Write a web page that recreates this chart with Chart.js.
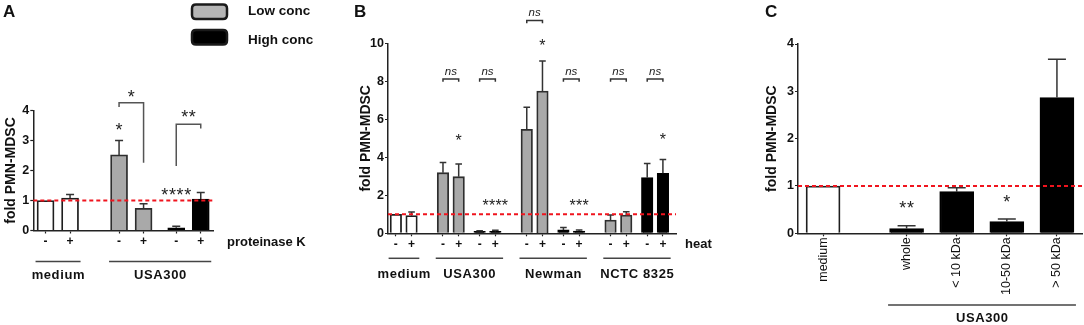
<!DOCTYPE html>
<html><head><meta charset="utf-8">
<script src="https://cdn.jsdelivr.net/npm/chart.js@4.4.1/dist/chart.umd.min.js"></script>
<style>
html,body{margin:0;padding:0;background:#fff;width:1084px;height:325px;overflow:hidden;position:relative}
canvas{position:absolute;left:0;top:0}
</style></head><body>
<canvas id="cA" width="1100" height="325"></canvas>
<canvas id="cB" width="1100" height="325"></canvas>
<canvas id="cC" width="1100" height="325"></canvas>
<script>
// ---------- DATA ----------
const yTitle = 'fold PMN-MDSC';
const legendLabels = ['Low conc', 'High conc'];

// Panel A
const treatA  = ['-', '+', '-', '+', '-', '+'];
const groupA  = ['medium', 'medium', 'USA300', 'USA300', 'USA300', 'USA300'];
const concA   = ['none', 'none', 'low', 'low', 'high', 'high'];
const valuesA = [1.00, 1.08, 2.52, 0.74, 0.09, 1.05];
const errorsA = [0.00, 0.12, 0.48, 0.15, 0.05, 0.22];
const ticksA  = [0, 1, 2, 3, 4];

// Panel B
const treatB  = ['-', '+', '-', '+', '-', '+', '-', '+', '-', '+', '-', '+', '-', '+'];
const groupB  = ['medium', 'medium', 'USA300', 'USA300', 'USA300', 'USA300',
                 'Newman', 'Newman', 'Newman', 'Newman', 'NCTC 8325', 'NCTC 8325', 'NCTC 8325', 'NCTC 8325'];
const concB   = ['none', 'none', 'low', 'low', 'high', 'high', 'low', 'low', 'high', 'high', 'low', 'low', 'high', 'high'];
const valuesB = [1.00, 0.93, 3.19, 2.98, 0.10, 0.10, 5.47, 7.49, 0.18, 0.12, 0.70, 0.96, 2.93, 3.16];
const errorsB = [0.00, 0.19, 0.53, 0.67, 0.04, 0.06, 1.16, 1.58, 0.12, 0.05, 0.26, 0.18, 0.75, 0.73];
const ticksB  = [0, 2, 4, 6, 8, 10];

// Panel C
const categoriesC = ['medium', 'whole', '< 10 kDa', '10-50 kDa', '> 50 kDa'];
const groupC  = ['medium', 'USA300', 'USA300', 'USA300', 'USA300'];
const concC   = ['none', 'high', 'high', 'high', 'high'];
const valuesC = [1.00, 0.10, 0.88, 0.25, 2.87];
const errorsC = [0.00, 0.06, 0.08, 0.05, 0.81];
const ticksC  = [0, 1, 2, 3, 4];

// significance annotations (in data units)
const bracketsA = [
  {from: 2, to: 3, top: 4.26, dropL: 4.12, dropR: 2.26, text: '*',  textY: 4.62, kind: 'star'},
  {from: 4, to: 5, top: 3.54, dropL: 2.15, dropR: 3.40, text: '**', textY: 3.96, kind: 'star'}
];
const starsA = [{bar: 2, y: 3.52, text: '*'}, {bar: 4, y: 1.35, text: '****'}];

const bracketsB = [
  {from: 2,  to: 3,  top: 8.12,  dropL: 7.97,  dropR: 7.97,  text: 'ns', textY: 8.5,   kind: 'ns'},
  {from: 4,  to: 5,  top: 8.12,  dropL: 7.97,  dropR: 7.97,  text: 'ns', textY: 8.5,   kind: 'ns'},
  {from: 6,  to: 7,  top: 11.2,  dropL: 11.05, dropR: 11.05, text: 'ns', textY: 11.58, kind: 'ns'},
  {from: 8,  to: 9,  top: 8.12,  dropL: 7.97,  dropR: 7.97,  text: 'ns', textY: 8.5,   kind: 'ns'},
  {from: 10, to: 11, top: 8.12,  dropL: 7.97,  dropR: 7.97,  text: 'ns', textY: 8.5,   kind: 'ns'},
  {from: 12, to: 13, top: 8.12,  dropL: 7.97,  dropR: 7.97,  text: 'ns', textY: 8.5,   kind: 'ns'}
];
const starsB = [
  {bar: 3, y: 5.09, text: '*'}, {bar: 7, y: 10.08, text: '*'}, {bar: 13, y: 5.17, text: '*'},
  {bar: 5, y: 1.66, text: '****'}, {bar: 9, y: 1.66, text: '***'}
];
const starsC = [{bar: 1, y: 0.63, text: '**'}, {bar: 3, y: 0.77, text: '*'}];

// ---------- STYLE / LAYOUT ----------
const FONT = '"Liberation Sans", Arial, Helvetica, sans-serif';
Chart.defaults.font.family = FONT;
Chart.defaults.color = '#111';
const fills = {none: '#ffffff', low: '#a9a9a9', high: '#000000'};
const edges = {none: '#1e1e1e', low: '#2e2e2e', high: '#000000'};

function spread(n, idx, arr, empty) {
  const out = Array(n).fill(empty);
  idx.forEach((k, i) => { out[k] = arr[i]; });
  return out;
}

function drawMark(ctx, text, x, yc, kind, size, spacing) {
  ctx.save();
  ctx.fillStyle = '#222';
  ctx.textAlign = 'center';
  ctx.textBaseline = 'alphabetic';
  if (kind === 'ns') {
    ctx.font = 'italic 11.5px ' + FONT;
    ctx.fillText(text, x, yc + 0.27 * 11.5);
  } else {
    const s = size || 15;
    ctx.font = s + 'px ' + FONT;
    const sp = text.length > 1 ? (spacing || 0) : 0;
    ctx.letterSpacing = sp + 'px';
    ctx.fillText(text, x + sp / 2, yc + 0.6 * s);
  }
  ctx.restore();
}

function txt(ctx, text, x, y, font, align, spacing) {
  ctx.save();
  ctx.font = font;
  ctx.fillStyle = '#111';
  ctx.textAlign = align || 'left';
  ctx.textBaseline = 'middle';
  if (spacing) ctx.letterSpacing = spacing + 'px';
  ctx.fillText(text, x + (align === 'center' && spacing ? spacing / 2 : 0), y);
  ctx.restore();
}

function annot(p) {
  return {
    id: 'annot_' + p.name,
    afterDatasetsDraw(chart) {
      const {ctx, chartArea: a, scales: {x, y}} = chart;
      const px = i => x.getPixelForValue(p.idx[i]);
      const py = v => y.getPixelForValue(v);
      ctx.save();
      // error bars
      ctx.strokeStyle = '#333';
      ctx.lineWidth = 1.5;
      p.values.forEach((v, i) => {
        const e = p.errors[i];
        if (!e) return;
        const cx = px(i), y1 = py(v), y2 = py(v + e);
        ctx.beginPath();
        ctx.moveTo(cx, y1); ctx.lineTo(cx, y2);
        ctx.moveTo(cx - p.cap, y2); ctx.lineTo(cx + p.cap, y2);
        ctx.stroke();
      });
      // reference line at 1
      ctx.strokeStyle = '#f0141e';
      ctx.lineWidth = 2;
      ctx.setLineDash([4, 3]);
      ctx.beginPath();
      ctx.moveTo(a.left, py(1)); ctx.lineTo(a.right, py(1));
      ctx.stroke();
      ctx.setLineDash([]);
      // brackets
      (p.brackets || []).forEach(b => {
        const x1 = px(b.from), x2 = px(b.to), yt = py(b.top);
        ctx.strokeStyle = b.kind === 'ns' ? '#333' : '#555';
        ctx.lineWidth = 1.5;
        ctx.beginPath();
        ctx.moveTo(x1, py(b.dropL)); ctx.lineTo(x1, yt); ctx.lineTo(x2, yt); ctx.lineTo(x2, py(b.dropR));
        ctx.stroke();
        drawMark(ctx, b.text, (x1 + x2) / 2, py(b.textY), b.kind, p.starSize, p.starSp);
      });
      // stars
      (p.stars || []).forEach(s => drawMark(ctx, s.text, px(s.bar), py(s.y), 'star', p.starSize, p.starSp));
      // group underlines + labels
      (p.underline || []).forEach(g => {
        const members = p.groups.map((n, i) => n === g ? i : -1).filter(i => i >= 0);
        const x1 = px(members[0]) - p.barW / 2 - 1.5;
        const x2 = px(members[members.length - 1]) + p.barW / 2 + 2;
        ctx.strokeStyle = '#444';
        ctx.lineWidth = 1.5;
        ctx.beginPath();
        ctx.moveTo(x1, a.bottom + p.lineDy); ctx.lineTo(x2, a.bottom + p.lineDy);
        ctx.stroke();
        txt(ctx, g, (x1 + x2) / 2, a.bottom + p.labelDy, 'bold 13px ' + FONT, 'center', 0.6);
      });
      // row label
      if (p.rowLabel) txt(ctx, p.rowLabel, a.right + p.rowDx, a.bottom + p.rowDy, 'bold 13px ' + FONT, 'left');
      // panel letter
      ctx.font = 'bold 17px ' + FONT;
      ctx.fillStyle = '#111';
      ctx.textAlign = 'left';
      ctx.textBaseline = 'alphabetic';
      ctx.fillText(p.letter, p.letterX, 17);
      // legend (panel A only)
      if (p.legend) {
        const rr = (x0, y0, w, h, r) => {
          ctx.beginPath();
          ctx.moveTo(x0 + r, y0); ctx.lineTo(x0 + w - r, y0); ctx.quadraticCurveTo(x0 + w, y0, x0 + w, y0 + r);
          ctx.lineTo(x0 + w, y0 + h - r); ctx.quadraticCurveTo(x0 + w, y0 + h, x0 + w - r, y0 + h);
          ctx.lineTo(x0 + r, y0 + h); ctx.quadraticCurveTo(x0, y0 + h, x0, y0 + h - r);
          ctx.lineTo(x0, y0 + r); ctx.quadraticCurveTo(x0, y0, x0 + r, y0); ctx.closePath();
        };
        ctx.lineWidth = 2.5;
        ctx.strokeStyle = '#1a1a1a';
        rr(192, 4.5, 35, 14.5, 4); ctx.fillStyle = '#b5b5b5'; ctx.fill(); ctx.stroke();
        rr(192, 30, 35, 14.5, 4); ctx.fillStyle = '#000'; ctx.fill(); ctx.stroke();
        txt(ctx, legendLabels[0], 248, 11.5, 'bold 13.5px ' + FONT, 'left');
        txt(ctx, legendLabels[1], 248, 40, 'bold 13.5px ' + FONT, 'left');
      }
      ctx.restore();
    }
  };
}

function makeChart(id, p) {
  const labels = spread(p.slots, p.idx, p.labels, '');
  const data = spread(p.slots, p.idx, p.values, null);
  const bg = spread(p.slots, p.idx, p.conc.map(c => fills[c]), 'rgba(0,0,0,0)');
  const bd = spread(p.slots, p.idx, p.conc.map(c => edges[c]), 'rgba(0,0,0,0)');
  return new Chart(document.getElementById(id), {
    type: 'bar',
    data: {labels, datasets: [{data, backgroundColor: bg, borderColor: bd, borderWidth: 1.8,
      borderSkipped: 'start', barThickness: p.barW}]},
    options: {
      responsive: false, animation: false, devicePixelRatio: 1,
      layout: {padding: p.pad},
      plugins: {legend: {display: false}, tooltip: {enabled: false}},
      scales: {
        x: {
          type: 'category', offset: true,
          grid: {display: true, drawOnChartArea: false, offset: false, tickLength: p.xTick, tickWidth: 1.2,
            tickColor: c => labels[c.index] ? '#222' : 'rgba(0,0,0,0)'},
          border: {display: true, color: '#222', width: 1.5},
          ticks: {autoSkip: false, minRotation: p.rot, maxRotation: p.rot, padding: p.xPad, color: '#111', font: p.xFont},
          afterFit: s => { s.height = p.xH; }
        },
        y: {
          min: 0, max: p.yticks[p.yticks.length - 1],
          afterBuildTicks: s => { s.ticks = p.yticks.map(v => ({value: v})); },
          grid: {display: true, drawOnChartArea: false, tickLength: 3, tickColor: '#222', tickWidth: 1.2},
          border: {display: true, color: '#222', width: 1.5},
          ticks: {padding: 1, color: '#111', font: {size: 12.5, weight: 'bold'}},
          title: {display: true, text: yTitle, padding: 0, color: '#111', font: {size: 14, weight: 'bold'}},
          afterFit: s => { s.width = p.yW; }
        }
      }
    },
    plugins: [annot(p)]
  });
}

makeChart('cA', {
  name: 'A', slots: 22, idx: [1, 4, 10, 13, 17, 20],
  labels: treatA, values: valuesA, errors: errorsA, conc: concA, groups: groupA,
  yticks: ticksA, barW: 17, cap: 4,
  pad: {left: 2.6, top: 110.5, right: 1100 - 213, bottom: 325 - 230.5 - 20},
  yW: 30.7, xH: 20, xTick: 3, xPad: 1, rot: 0, xFont: {size: 12, weight: 'bold'},
  brackets: bracketsA, stars: starsA, starSize: 18, starSp: 0.6,
  underline: ['medium', 'USA300'], lineDy: 31, labelDy: 44.5,
  rowLabel: 'proteinase K', rowDx: 14, rowDy: 11.5,
  letter: 'A', letterX: 3, legend: true
});

makeChart('cB', {
  name: 'B', slots: 55, idx: [1, 4, 10, 13, 17, 20, 26, 29, 33, 36, 42, 45, 49, 52],
  labels: treatB, values: valuesB, errors: errorsB, conc: concB, groups: groupB,
  yticks: ticksB, barW: 11.5, cap: 3.3,
  pad: {left: 357.6, top: 43.3, right: 1100 - 676, bottom: 325 - 233.3 - 20},
  yW: 30.4, xH: 20, xTick: 3, xPad: 1, rot: 0, xFont: {size: 12, weight: 'bold'},
  brackets: bracketsB, stars: starsB, starSize: 16, starSp: 0.2,
  underline: ['medium', 'USA300', 'Newman', 'NCTC 8325'], lineDy: 25, labelDy: 41,
  rowLabel: 'heat', rowDx: 9, rowDy: 11,
  letter: 'B', letterX: 354
});

makeChart('cC', {
  name: 'C', slots: 17, idx: [1, 6, 9, 12, 15],
  labels: categoriesC, values: valuesC, errors: errorsC, conc: concC, groups: groupC,
  yticks: ticksC, barW: 34, cap: 9,
  pad: {left: 763.6, top: 44, right: 1100 - 1082, bottom: 325 - 233.3 - 70},
  yW: 34.4, xH: 70, xTick: 3, xPad: 1, rot: 90, xFont: {size: 12.5},
  stars: starsC, starSize: 18, starSp: 0.6,
  underline: ['USA300'], lineDy: 71.7, labelDy: 85,
  letter: 'C', letterX: 765
});
</script>
</body></html>
